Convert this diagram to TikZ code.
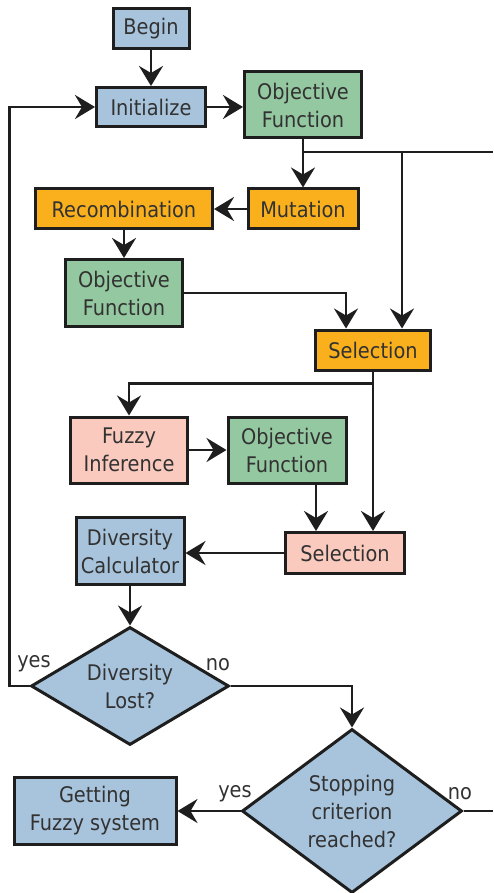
\documentclass[tikz,border=0pt]{standalone}
\usepackage{fontspec}
\setmainfont{DejaVu Sans Condensed}
\usetikzlibrary{arrows.meta,shapes.geometric}

\definecolor{boxblue}{RGB}{168,196,220}
\definecolor{boxgreen}{RGB}{148,200,160}
\definecolor{boxorange}{RGB}{249,176,28}
\definecolor{boxpink}{RGB}{250,202,190}
\definecolor{linedark}{RGB}{30,30,30}
\definecolor{textgray}{RGB}{50,50,50}

\begin{document}
\begin{tikzpicture}[%
          x=1pt, y=-1pt,
          font=\fontsize{21.5}{28}\selectfont,
          box/.style={draw=linedark, line width=3pt, text=textgray, align=center, inner sep=0pt},
          bluebox/.style={box, fill=boxblue},
          greenbox/.style={box, fill=boxgreen},
          orangebox/.style={box, fill=boxorange},
          pinkbox/.style={box, fill=boxpink},
          decision/.style={box, shape=diamond, fill=boxblue},
          conn/.style={draw=linedark, line width=2.8pt, line join=miter},
          flow/.style={conn, -{Stealth[length=20pt,width=24pt,inset=7pt]}},
          lbl/.style={text=textgray, inner sep=0pt}]

  \useasboundingbox (0,0) rectangle (493,893);

  \node[bluebox, minimum width=76pt, minimum height=40pt] at (151,29) (begin) {Begin};
  \node[bluebox, minimum width=109pt, minimum height=39pt] at (151,107) (init) {Initialize};
  \node[greenbox, minimum width=117pt, minimum height=66pt] at (303,105) (obj1) {Objective\\Function};

  \node[orangebox, minimum width=110pt, minimum height=40pt] at (303,209) (mut) {Mutation};
  \node[orangebox, minimum width=177pt, minimum height=40pt] at (124,209) (recomb) {Recombination};
  \node[greenbox, minimum width=117pt, minimum height=67pt] at (124,293) (obj2) {Objective\\Function};

  \node[orangebox, minimum width=115pt, minimum height=40pt] at (373,350) (sel1) {Selection};

  \node[pinkbox, minimum width=117pt, minimum height=66pt] at (129,450) (fuzzy) {Fuzzy\\Inference};
  \node[greenbox, minimum width=118pt, minimum height=66pt] at (287,450) (obj3) {Objective\\Function};

  \node[pinkbox, minimum width=119pt, minimum height=41pt] at (345,553) (sel2) {Selection};
  \node[bluebox, minimum width=108pt, minimum height=67pt] at (130,551) (divcalc) {Diversity\\Calculator};

  \node[decision, aspect=1.68, minimum width=198pt, minimum height=118pt] at (130,686) (lost) {Diversity\\Lost?};
  \node[decision, aspect=1.34, minimum width=220pt, minimum height=164pt] at (352,811) (stop) {Stopping\\criterion\\reached?};
  \node[bluebox, minimum width=162pt, minimum height=67pt] at (95,811) (getfuzzy) {Getting\\Fuzzy system};

  \node[lbl] at (34,664) (yes1) {yes};
  \node[lbl] at (218,665) (no1) {no};
  \node[lbl] at (235,794) (yes2) {yes};
  \node[lbl] at (460,794) (no2) {no};

  \coordinate (split1) at (402,152);
  \coordinate (topright) at (493,152);
  \coordinate (botright) at (493,811);

  \draw[flow] (begin.south) -- (begin.south |- init.north);
  \draw[flow] (init.east) -- (init.east -| obj1.west);

  \draw[flow] (obj1.south) -- (mut.north);
  \draw[conn] (obj1.south |- topright) -- (topright);
  \draw[flow] (split1) -- (split1 |- sel1.north);

  \draw[flow] (mut.west) -- (recomb.east);
  \draw[flow] (recomb.south) -- (obj2.north);
  \draw[flow] (obj2.east) -| ([xshift=-27pt]sel1.north);

  \draw[flow] (sel1.south) --++(0,12) -| (fuzzy.north);
  \draw[flow] (sel1.south) -- (sel1.south |- sel2.north);

  \draw[flow] (fuzzy.east) -- (obj3.west);
  \draw[flow] ([xshift=29pt]obj3.south) -- ([xshift=29pt]obj3.south |- sel2.north);
  \draw[flow] (sel2.west) -- (sel2.west -| divcalc.east);

  \draw[flow] (divcalc.south) -- (lost.north);
  \draw[flow] (lost.west) --++(-20,0) |- (init.west);
  \draw[flow] (lost.east) -| (stop.north);

  \draw[flow] (stop.west) -- (getfuzzy.east);
  \draw[conn] (stop.east) -- (botright);

\end{tikzpicture}
\end{document}
